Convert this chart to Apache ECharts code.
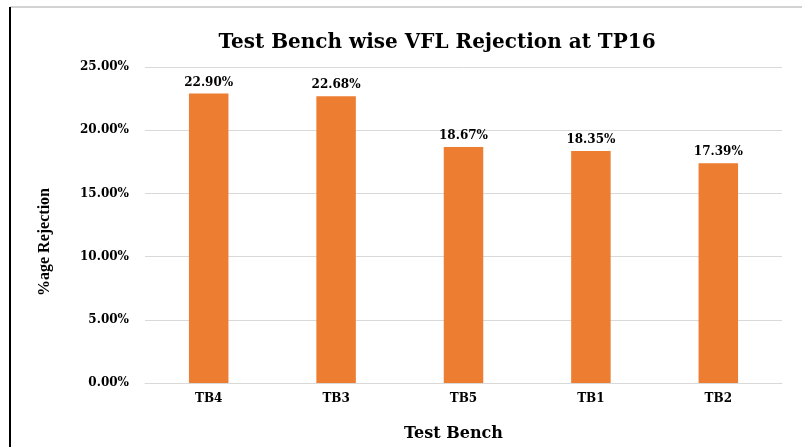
<!DOCTYPE html>
<html>
<head>
<meta charset="utf-8">
<script src="https://cdn.jsdelivr.net/npm/echarts@6/dist/echarts.min.js"></script>
<style>
  html, body { margin: 0; padding: 0; background: #fff; }
  #chart { width: 802px; height: 447px; }
</style>
</head>
<body>
<div id="chart"></div>
<script>
// data
const benches = ["TB4", "TB3", "TB5", "TB1", "TB2"];
const rejection = [22.90, 22.68, 18.67, 18.35, 17.39];
const yTicks = [0, 5, 10, 15, 20, 25];

const font = "DejaVu Serif";
let chart = echarts.init(document.getElementById("chart"));
chart.setOption({
  backgroundColor: "#fff",
  animation: false,
  title: {
    text: "Test Bench wise VFL Rejection at TP16",
    left: 432,
    textAlign: "center",
    top: 28,
    textStyle: { fontFamily: font, fontSize: 20, fontWeight: "bold", color: "#000" }
  },
  graphic: [
    // frame lines of the screenshot
    { type: "line", shape: { x1: 10, y1: 7, x2: 802, y2: 7 }, style: { stroke: "#a6a6a6", lineWidth: 1 } },
    { type: "line", shape: { x1: 10, y1: 7, x2: 10, y2: 447 }, style: { stroke: "#000", lineWidth: 2 } }
  ],
  grid: { left: 145, right: 20, top: 67, bottom: 62 },
  xAxis: {
    type: "category",
    data: benches,
    name: "Test Bench",
    nameLocation: "middle",
    nameGap: 43,
    nameTextStyle: { fontFamily: font, fontSize: 16, fontWeight: "bold", color: "#000", padding: [0, 20, 0, 0] },
    axisTick: { show: false },
    axisLine: { lineStyle: { color: "#d9d9d9", width: 1 } },
    axisLabel: { margin: 10, fontFamily: font, fontSize: 12, fontWeight: "bold", color: "#000" }
  },
  yAxis: {
    type: "value",
    min: yTicks[0],
    max: yTicks[yTicks.length - 1],
    interval: yTicks[1] - yTicks[0],
    name: "%age Rejection",
    nameLocation: "middle",
    nameGap: 92,
    nameTextStyle: { fontFamily: "Liberation Serif", fontSize: 16, fontWeight: "bold", color: "#000", padding: [0, 0, 0, -34] },
    axisLine: { show: false },
    axisTick: { show: false },
    splitLine: { lineStyle: { color: "#d9d9d9", width: 1 } },
    axisLabel: {
      margin: 16,
      fontFamily: font, fontSize: 12, fontWeight: "bold", color: "#000",
      formatter: v => v.toFixed(2) + "%"
    }
  },
  series: [
    {
      type: "bar",
      data: rejection,
      barWidth: "31%",
      itemStyle: { color: "#ED7D31" },
      label: {
        show: true,
        position: "top",
        distance: 5,
        fontFamily: font, fontSize: 12, fontWeight: "bold", color: "#000",
        formatter: p => p.value.toFixed(2) + "%"
      }
    }
  ]
});
</script>
</body>
</html>
